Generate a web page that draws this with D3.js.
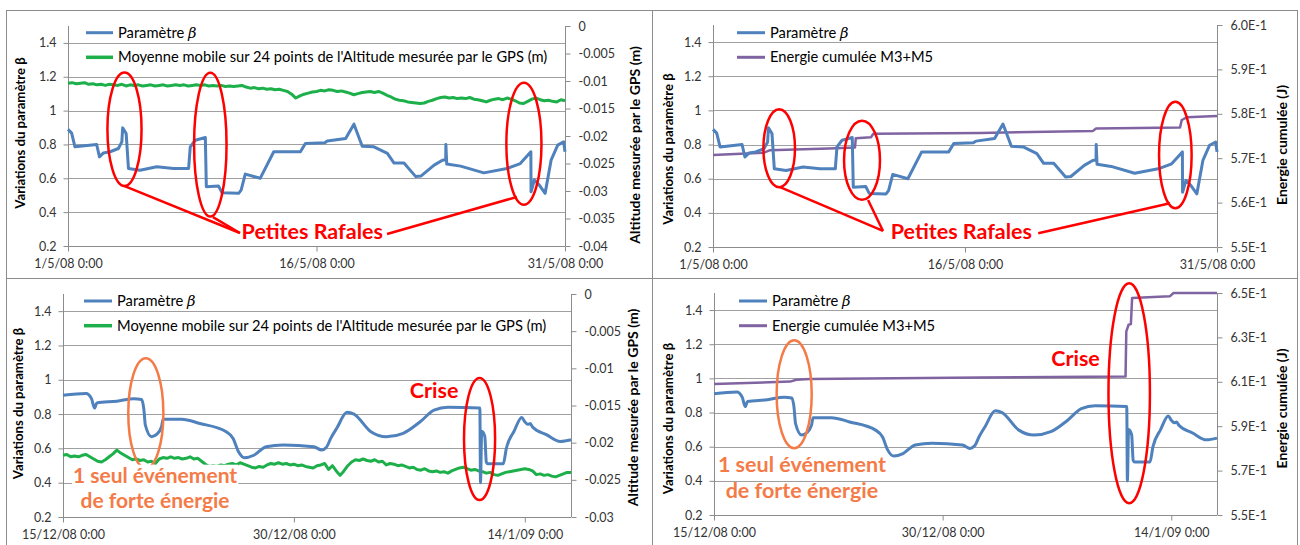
<!DOCTYPE html>
<html><head><meta charset="utf-8">
<script src="https://cdn.jsdelivr.net/npm/d3@7"></script>
<style>html,body{margin:0;padding:0;background:#fff}svg{display:block}</style>
</head><body>
<svg id="c" width="1300" height="545"></svg>
<script>
// ---------- DATA ----------
// Period 1 : May 2008 (days since 1/5/08 0:00)
const topBetaDays = [0,0.22,0.42,1.73,1.9,2.14,2.54,3.04,3.25,3.3,3.51,3.65,4.35,5.36,6.37,7.28,7.38,7.68,8.29,8.35,9.09,9.3,10.3,10.45,10.7,11.6,12.42,14.03,14.33,15.5,15.65,16.76,17.26,17.76,18.47,19.28,19.68,20.28,20.99,21.3,22.1,22.6,22.8,22.81,22.86,23.7,25.1,26.5,27.3,27.94,27.95,28.15,28.45,28.8,29.16,29.56,29.92,30];
const topBeta = [0.889,0.867,0.786,0.80,0.727,0.75,0.757,0.776,0.815,0.898,0.865,0.658,0.648,0.668,0.658,0.658,0.786,0.825,0.841,0.55,0.554,0.514,0.511,0.53,0.625,0.6,0.757,0.757,0.806,0.81,0.82,0.835,0.92,0.79,0.786,0.747,0.69,0.69,0.61,0.613,0.678,0.707,0.71,0.80,0.684,0.672,0.632,0.658,0.687,0.757,0.52,0.59,0.56,0.511,0.707,0.796,0.815,0.757];
// GPS altitude moving average (m), every 6 h from 1/5/08
const topAltitude = [
-0.0104,-0.0103,-0.0105,-0.0104, -0.0103,-0.0106,-0.0105,-0.0107, -0.0106,-0.0108,-0.0106,-0.0107,
-0.0108,-0.0106,-0.0109,-0.0107, -0.0108,-0.0107,-0.0109,-0.0108, -0.0107,-0.0109,-0.0108,-0.0107,
-0.0109,-0.0108,-0.0107,-0.0108, -0.0107,-0.0109,-0.0108,-0.0107, -0.0108,-0.0107,-0.0109,-0.0108,
-0.0109,-0.0108,-0.0110,-0.0109, -0.0110,-0.0109,-0.0108,-0.0111, -0.0113,-0.0112,-0.0114,-0.0113,
-0.0115,-0.0114,-0.0116,-0.0115, -0.0117,-0.0119,-0.0124,-0.0131, -0.0127,-0.0124,-0.0122,-0.0120,
-0.0119,-0.0117,-0.0118,-0.0116, -0.0117,-0.0119,-0.0118,-0.0120, -0.0122,-0.0125,-0.0123,-0.0121,
-0.0120,-0.0119,-0.0121,-0.0119, -0.0122,-0.0126,-0.0129,-0.0133, -0.0135,-0.0136,-0.0138,-0.0139,
-0.0140,-0.0141,-0.0140,-0.0137, -0.0135,-0.0132,-0.0130,-0.0129, -0.0131,-0.0130,-0.0132,-0.0131,
-0.0132,-0.0130,-0.0133,-0.0134, -0.0136,-0.0138,-0.0135,-0.0133, -0.0132,-0.0134,-0.0131,-0.0133,
-0.0136,-0.0140,-0.0141,-0.0137, -0.0133,-0.0131,-0.0134,-0.0136, -0.0135,-0.0137,-0.0138,-0.0134,
-0.0136];
const topEnergyDays = [0,3.0,3.4,6.9,8.45,8.5,9.4,9.55,15.9,22.6,22.8,27.8,27.9,28.2,30];
const topEnergy = [0.5707,0.5712,0.5718,0.5722,0.5724,0.5745,0.5747,0.5755,0.5757,0.5761,0.5767,0.5769,0.5786,0.5792,0.5795];

// Period 2 : 15/12/08 - 17/1/09 (days since 15/12/08 0:00)
const botBetaDays = [0,1.5,1.85,2.05,2.2,3.5,4.6,5.1,5.25,5.35,5.75,6.1,6.4,6.5,7.7,8.9,10.6,11.05,11.4,11.8,12.4,13.2,14.3,16.3,16.8,17.1,17.4,17.8,18.45,18.9,20,21,22.1,23.2,24.1,25,27.08,27.12,27.2,27.4,27.5,27.6,28.6,28.8,29.3,29.8,30.0,30.2,30.35,30.5,31.4,32.3,33];
const botBeta = [0.91,0.92,0.89,0.835,0.865,0.875,0.89,0.885,0.83,0.735,0.668,0.683,0.726,0.77,0.77,0.745,0.697,0.658,0.58,0.545,0.56,0.61,0.62,0.61,0.59,0.605,0.66,0.72,0.81,0.80,0.697,0.668,0.688,0.755,0.823,0.84,0.835,0.40,0.70,0.67,0.52,0.51,0.51,0.60,0.70,0.78,0.755,0.74,0.745,0.725,0.68,0.64,0.65];
const botAltitude = [
-0.0217,-0.0216,-0.0219,-0.0218, -0.0219,-0.0217,-0.0216,-0.0219, -0.0222,-0.0225,-0.0226,-0.0223,
-0.0219,-0.0215,-0.0210,-0.0214, -0.0217,-0.0220,-0.0223,-0.0222, -0.0224,-0.0223,-0.0226,-0.0225,
-0.0228,-0.0222,-0.0220,-0.0221, -0.0219,-0.0221,-0.0220,-0.0222, -0.0221,-0.0219,-0.0222,-0.0221,
-0.0225,-0.0229,-0.0232,-0.0231, -0.0232,-0.0230,-0.0231,-0.0229, -0.0228,-0.0230,-0.0227,-0.0229,
-0.0231,-0.0233,-0.0234,-0.0232, -0.0233,-0.0230,-0.0228,-0.0229, -0.0227,-0.0229,-0.0228,-0.0230,
-0.0229,-0.0231,-0.0230,-0.0232, -0.0233,-0.0234,-0.0231,-0.0230, -0.0228,-0.0236,-0.0231,-0.0238,
-0.0244,-0.0238,-0.0231,-0.0226, -0.0223,-0.0224,-0.0222,-0.0224, -0.0225,-0.0223,-0.0226,-0.0225,
-0.0230,-0.0228,-0.0229,-0.0231, -0.0230,-0.0232,-0.0234,-0.0233, -0.0236,-0.0237,-0.0235,-0.0238,
-0.0239,-0.0238,-0.0240,-0.0239, -0.0241,-0.0238,-0.0236,-0.0234, -0.0233,-0.0235,-0.0237,-0.0236,
-0.0238,-0.0239,-0.0241,-0.0240, -0.0243,-0.0244,-0.0242,-0.0240, -0.0239,-0.0238,-0.0237,-0.0236,
-0.0235,-0.0236,-0.0238,-0.0243, -0.0242,-0.0244,-0.0243,-0.0245, -0.0246,-0.0244,-0.0242,-0.0240,
-0.0240];
const botEnergyDays = [0,4.1,5.0,5.4,6.3,17.5,27.0,27.05,27.2,27.35,27.43,29.9,30.15,33];
const botEnergy = [0.609,0.6099,0.6101,0.6109,0.6113,0.6119,0.6124,0.6327,0.6357,0.636,0.6477,0.6485,0.65,0.65];

const altStepDays = 0.25;
const betaTicks = [0.2,0.4,0.6,0.8,1,1.2,1.4];
const altTicksTop = [0,-0.005,-0.01,-0.015,-0.02,-0.025,-0.03,-0.035,-0.04];
const altTicksBot = [0,-0.005,-0.01,-0.015,-0.02,-0.025,-0.03];
const energyTicksTop = [0.55,0.56,0.57,0.58,0.59,0.60];
const energyTicksBot = [0.55,0.57,0.59,0.61,0.63,0.65];
const xTickDays = [0,15,30];
const topXLabels = ["1/5/08 0:00","16/5/08 0:00","31/5/08 0:00"];
const botXLabels = ["15/12/08 0:00","30/12/08 0:00","14/1/09 0:00"];
const legendBeta = "Paramètre ";
const legendAlt = "Moyenne mobile sur 24 points de l'Altitude mesurée par le GPS (m)";
const legendEnergy = "Energie cumulée M3+M5";
const titleLeft = "Variations du paramètre β";
const titleAlt = "Altitude mesurée par le GPS (m)";
const titleEnergy = "Energie cumulée (J)";

// ---------- STYLE ----------
const FONT = "Lato, 'Open Sans', sans-serif";
const C_BLUE = "#4F81BD", C_GREEN = "#1DB04A", C_PURPLE = "#8064A2";
const C_RED = "#FF0000", C_ORANGE = "#F47B47";
const C_GRID = "#A0A0A0", C_AXIS = "#8C8C8C", C_TXT = "#333333";

const svg = d3.select("#c");
// panel frames
const frame = svg.append("g").attr("fill","none").attr("stroke","#8C8C8C").attr("stroke-width",1);
frame.append("rect").attr("x",6.5).attr("y",10.5).attr("width",1291).attr("height",560);
frame.append("line").attr("x1",652.5).attr("x2",652.5).attr("y1",10).attr("y2",545);
frame.append("line").attr("x1",6).attr("x2",1298).attr("y1",278.5).attr("y2",278.5);

const panels = [
 {px:[68,565], py:[26,246], xmax:30, xl:topXLabels, bd:topBetaDays, bv:topBeta, smooth:false,
  s2:topAltitude.map((v,i)=>[i*altStepDays,v]), s2c:C_GREEN, s2w:3, rdom:[-0.04,0], rt:altTicksTop,
  rfmt:v=>v===0?"0":String(+v.toFixed(3)), leg2:legendAlt, rtitle:titleAlt,
  leg:[86,113,32.7,57.3], lt:[20,133], rtt:[635,145],
  ann:[{t:"e",c:C_RED,x:3.41,y:0.890,rx:1.03,ry:0.335},{t:"e",c:C_RED,x:8.59,y:0.799,rx:0.98,ry:0.425},
       {t:"e",c:C_RED,x:27.52,y:0.804,rx:1.06,ry:0.36},
       {t:"l",c:C_RED,x1:3.38,y1:0.555,x2:10.38,y2:0.277},{t:"l",c:C_RED,x1:8.75,y1:0.371,x2:10.38,y2:0.277},
       {t:"l",c:C_RED,x1:19.26,y1:0.271,x2:27.1,y2:0.49},
       {t:"s",c:C_RED,x:10.48,y:0.241,a:"start",s:21.5,lines:["Petites Rafales"]}]},
 {px:[713,1217], py:[25,247], xmax:30, xl:topXLabels, bd:topBetaDays, bv:topBeta, smooth:false,
  s2:topEnergyDays.map((d,i)=>[d,topEnergy[i]]), s2c:C_PURPLE, s2w:2.5, rdom:[0.55,0.60], rt:energyTicksTop,
  rfmt:v=>(v*10).toFixed(1)+"E-1", leg2:legendEnergy, rtitle:titleEnergy,
  leg:[737,765,32.7,57.3], lt:[668,149], rtt:[1282,145],
  ann:[{t:"e",c:C_RED,x:3.94,y:0.778,rx:0.94,ry:0.228},{t:"e",c:C_RED,x:8.87,y:0.708,rx:1.07,ry:0.232},
       {t:"e",c:C_RED,x:27.52,y:0.739,rx:0.97,ry:0.312},
       {t:"l",c:C_RED,x1:3.99,y1:0.551,x2:10.12,y2:0.294},{t:"l",c:C_RED,x1:9.23,y1:0.475,x2:10.12,y2:0.294},
       {t:"l",c:C_RED,x1:19.36,y1:0.280,x2:27.2,y2:0.456},
       {t:"s",c:C_RED,x:10.58,y:0.247,a:"start",s:21.5,lines:["Petites Rafales"]}]},
 {px:[63,571], py:[294,517], xmax:33, xl:botXLabels, bd:botBetaDays, bv:botBeta, smooth:true,
  s2:botAltitude.map((v,i)=>[i*altStepDays,v]), s2c:C_GREEN, s2w:3, rdom:[-0.03,0], rt:altTicksBot,
  rfmt:v=>v===0?"0":String(+v.toFixed(3)), leg2:legendAlt, rtitle:titleAlt,
  leg:[84,112,301,325.7], lt:[18,403.5], rtt:[633,407.5],
  ann:[{t:"e",c:C_ORANGE,x:5.38,y:0.805,rx:1.14,ry:0.321},
       {t:"s",c:C_ORANGE,x:5.98,y:0.40,a:"middle",s:21,lh:25,bg:1,lines:["1 seul événement","de forte énergie"]},
       {t:"e",c:C_RED,x:27.06,y:0.655,rx:1.01,ry:0.356},
       {t:"s",c:C_RED,x:24.11,y:0.894,a:"middle",s:21.5,lines:["Crise"]}]},
 {px:[714,1217], py:[293,515], xmax:33, xl:botXLabels, bd:botBetaDays, bv:botBeta, smooth:true,
  s2:botEnergyDays.map((d,i)=>[d,botEnergy[i]]), s2c:C_PURPLE, s2w:2.5, rdom:[0.55,0.65], rt:energyTicksBot,
  rfmt:v=>(v*10).toFixed(1)+"E-1", leg2:legendEnergy, rtitle:titleEnergy,
  leg:[739,767,301,325.7], lt:[668,418.5], rtt:[1282,408.5],
  ann:[{t:"e",c:C_ORANGE,x:5.26,y:0.907,rx:1.15,ry:0.316},
       {t:"s",c:C_ORANGE,x:5.77,y:0.454,a:"middle",s:21.5,lh:26.6,lines:["1 seul événement","de forte énergie"]},
       {t:"e",c:C_RED,x:27.24,y:0.913,rx:1.36,ry:0.644},
       {t:"s",c:C_RED,x:23.72,y:1.074,a:"middle",s:21.5,lines:["Crise"]}]}
];

panels.forEach(p=>{
  const g = svg.append("g");
  const x = d3.scaleLinear().domain([0,p.xmax]).range(p.px);
  const y = d3.scaleLinear().domain([0.2,1.5]).range([p.py[1],p.py[0]]);
  const yr = d3.scaleLinear().domain(p.rdom).range([p.py[1],p.py[0]]);
  // grid
  g.append("g").selectAll("line").data(betaTicks.filter(v=>v>0.2)).join("line")
    .attr("x1",p.px[0]).attr("x2",p.px[1]).attr("y1",d=>Math.round(y(d))+0.5).attr("y2",d=>Math.round(y(d))+0.5)
    .attr("stroke",C_GRID).attr("stroke-width",1);
  // axes
  const la = g.append("g").attr("transform",`translate(${p.px[0]+0.5},0)`)
    .call(d3.axisLeft(y).tickValues(betaTicks).tickSize(5).tickPadding(7).tickFormat(v=>String(+v.toFixed(1))));
  const ra = g.append("g").attr("transform",`translate(${p.px[1]+0.5},0)`)
    .call(d3.axisRight(yr).tickValues(p.rt).tickSize(5).tickPadding(8).tickFormat(p.rfmt));
  const ba = g.append("g").attr("transform",`translate(0,${p.py[1]+0.5})`)
    .call(d3.axisBottom(x).tickValues(xTickDays).tickSize(5).tickPadding(8).tickFormat((d,i)=>p.xl[i]));
  [la,ra,ba].forEach(a=>{
    a.select(".domain").attr("stroke",C_AXIS);
    a.selectAll(".tick line").attr("stroke",C_AXIS);
    a.selectAll("text").attr("fill",C_TXT).attr("font-family",FONT).attr("font-size",12.5);
  });
  la.select(".domain").attr("d",`M0,${p.py[0]}V${p.py[1]}`);
  ra.select(".domain").attr("d",`M0,${p.py[0]}V${p.py[1]}`);
  ba.select(".domain").attr("d",`M${p.px[0]},0H${p.px[1]}`);
  // series 2
  g.append("path").datum(p.s2).attr("fill","none").attr("stroke",p.s2c).attr("stroke-width",p.s2w)
    .attr("stroke-linejoin","round").attr("d",d3.line().x(d=>x(d[0])).y(d=>yr(d[1])));
  // beta
  g.append("path").datum(p.bd.map((d,i)=>[d,p.bv[i]])).attr("fill","none").attr("stroke",C_BLUE)
    .attr("stroke-width",3).attr("stroke-linejoin","round")
    .attr("d",d3.line().curve(p.smooth?d3.curveMonotoneX:d3.curveLinear).x(d=>x(d[0])).y(d=>y(d[1])));
  // axis titles
  g.append("text").attr("transform",`translate(${p.lt[0]},${p.lt[1]}) rotate(-90)`).attr("dy","0.35em")
    .attr("text-anchor","middle").attr("font-family",FONT).attr("font-weight","bold").attr("font-size",13.2)
    .attr("fill","#000").text(titleLeft);
  g.append("text").attr("transform",`translate(${p.rtt[0]},${p.rtt[1]}) rotate(-90)`).attr("dy","0.35em")
    .attr("text-anchor","middle").attr("font-family",FONT).attr("font-weight","bold").attr("font-size",14)
    .attr("fill","#000").text(p.rtitle);
  // legend
  const L = p.leg;
  [[L[2],C_BLUE,3],[L[3],p.s2c,p.s2w+0.5]].forEach(([yy,c,w])=>{
    g.append("line").attr("x1",L[0]).attr("x2",L[1]).attr("y1",yy).attr("y2",yy).attr("stroke",c).attr("stroke-width",w);
  });
  const t1 = g.append("text").attr("x",L[1]+5).attr("y",L[2]).attr("dy","0.35em").attr("font-family",FONT)
    .attr("font-size",14.7).attr("fill","#000").text(legendBeta);
  t1.append("tspan").attr("font-style","italic").attr("font-family","'DejaVu Serif', serif").text("β");
  g.append("text").attr("x",L[1]+5).attr("y",L[3]).attr("dy","0.35em").attr("font-family",FONT)
    .attr("font-size",14.7).attr("fill","#000").text(p.leg2);
  // annotations
  p.ann.forEach(a=>{
    if(a.t==="e"){
      g.append("ellipse").attr("cx",x(a.x)).attr("cy",y(a.y)).attr("rx",x(a.rx)-x(0)).attr("ry",y(0.2)-y(0.2+a.ry))
        .attr("fill","none").attr("stroke",a.c).attr("stroke-width",2.5);
    } else if(a.t==="l"){
      g.append("line").attr("x1",x(a.x1)).attr("y1",y(a.y1)).attr("x2",x(a.x2)).attr("y2",y(a.y2))
        .attr("stroke",a.c).attr("stroke-width",2.5);
    } else {
      const t = g.append("text").attr("text-anchor",a.a)
        .attr("font-family",FONT).attr("font-weight","bold").attr("font-size",a.s).attr("fill",a.c);
      a.lines.forEach((s,i)=>t.append("tspan").attr("x",x(a.x)).attr("y",y(a.y)+i*(a.lh||0)).text(s));
      if(a.bg){
        const b = t.node().getBBox();
        g.insert("rect",()=>t.node()).attr("x",b.x-1).attr("y",b.y+3).attr("width",b.width+2).attr("height",b.height-4).attr("fill","#fff");
      }
    }
  });
});
</script>
</body></html>
